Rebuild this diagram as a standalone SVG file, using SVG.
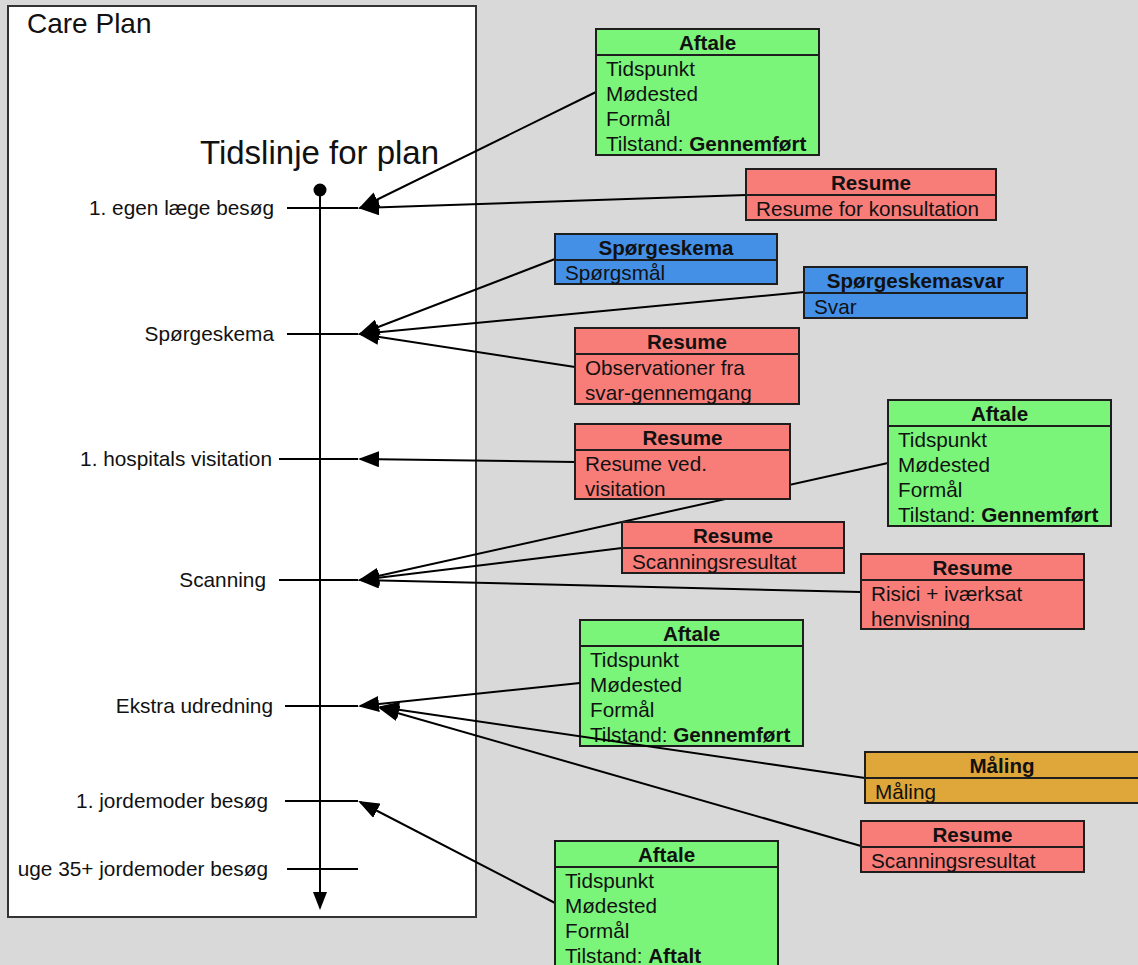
<svg xmlns="http://www.w3.org/2000/svg" width="1138" height="965" viewBox="0 0 1138 965">
<style>
text{font-family:"Liberation Sans",Arial,sans-serif;fill:#111}
.lbl{font-size:20.8px;text-anchor:end}
.hd{font-size:20.6px;font-weight:bold;text-anchor:middle}
.row{font-size:20.7px}
.b{font-weight:bold}
.box{stroke:#1e1e1e;stroke-width:2}
.sep{stroke:#1e1e1e;stroke-width:2}
.g{fill:#7af57a}.r{fill:#f87d79}.bl{fill:#4390e6}.o{fill:#dfa63a}
.tick{stroke:#000;stroke-width:2}
.con{stroke:#000;stroke-width:2;fill:none;marker-end:url(#ah)}
</style>
<defs>
<marker id="ah" viewBox="0 0 21 16" refX="19" refY="8" markerWidth="21" markerHeight="16" markerUnits="userSpaceOnUse" orient="auto"><path d="M0,0 L21,8 L0,16 z" fill="#000"/></marker>
<marker id="tl" viewBox="0 0 14 18" refX="7" refY="16" markerWidth="14" markerHeight="18" markerUnits="userSpaceOnUse" orient="0"><path d="M0,0 L14,0 L7,18 z" fill="#000"/></marker>
</defs>
<rect width="1138" height="965" fill="#d9d9d9"/>

<g id="care-plan">
<rect x="8" y="6" width="468" height="911" fill="#fff" stroke="#333" stroke-width="2"/>
<text x="27" y="33" style="font-size:28px">Care Plan</text>
<text x="200" y="164" style="font-size:33px">Tidslinje for plan</text>
<circle cx="320" cy="190" r="6.5" fill="#000"/>
<line x1="320" y1="190" x2="320" y2="908" stroke="#000" stroke-width="2" marker-end="url(#tl)"/>
<line class="tick" x1="287" y1="208" x2="358" y2="208"/>
<text class="lbl" x="274" y="215">1. egen læge besøg</text>
<line class="tick" x1="287" y1="334" x2="358" y2="334"/>
<text class="lbl" x="274" y="341">Spørgeskema</text>
<line class="tick" x1="279" y1="459" x2="358" y2="459"/>
<text class="lbl" x="272" y="466">1. hospitals visitation</text>
<line class="tick" x1="279" y1="580" x2="358" y2="580"/>
<text class="lbl" x="266" y="587">Scanning</text>
<line class="tick" x1="285" y1="706" x2="358" y2="706"/>
<text class="lbl" x="273" y="713">Ekstra udredning</text>
<line class="tick" x1="285" y1="801" x2="358" y2="801"/>
<text class="lbl" x="268" y="808">1. jordemoder besøg</text>
<line class="tick" x1="287" y1="869" x2="358" y2="869"/>
<text class="lbl" x="268" y="876">uge 35+ jordemoder besøg</text>
</g>

<g id="aftale-3">
<rect class="box g" x="580" y="620" width="223" height="126"/>
<line class="sep" x1="580" y1="646" x2="803" y2="646"/>
<text class="hd" x="691.5" y="641">Aftale</text>
<text class="row" x="590" y="667">Tidspunkt</text>
<text class="row" x="590" y="692">Mødested</text>
<text class="row" x="590" y="717">Formål</text>
<text class="row" x="590" y="742">Tilstand: <tspan class="b">Gennemført</tspan></text>
</g>

<g id="connectors">
<line class="con" x1="596" y1="92" x2="360" y2="208"/>
<line class="con" x1="746" y1="195" x2="360" y2="208"/>
<line class="con" x1="555" y1="259" x2="360" y2="334"/>
<line class="con" x1="804" y1="292" x2="360" y2="334"/>
<line class="con" x1="575" y1="367" x2="360" y2="334"/>
<line class="con" x1="575" y1="462" x2="360" y2="459"/>
<line class="con" x1="888" y1="463" x2="360" y2="580"/>
<line class="con" x1="622" y1="548" x2="360" y2="580"/>
<line class="con" x1="861" y1="592" x2="360" y2="580"/>
<line class="con" x1="580" y1="683" x2="360" y2="706"/>
<line class="con" x1="865" y1="778" x2="380" y2="707"/>
<line class="con" x1="861" y1="846" x2="380" y2="708"/>
<line class="con" x1="555" y1="903" x2="360" y2="802"/>
</g>

<g id="aftale-1">
<rect class="box g" x="596" y="29" width="223" height="126"/>
<line class="sep" x1="596" y1="55" x2="819" y2="55"/>
<text class="hd" x="707.5" y="50">Aftale</text>
<text class="row" x="606" y="76">Tidspunkt</text>
<text class="row" x="606" y="101">Mødested</text>
<text class="row" x="606" y="126">Formål</text>
<text class="row" x="606" y="151">Tilstand: <tspan class="b">Gennemført</tspan></text>
</g>

<g id="resume-1">
<rect class="box r" x="746" y="169" width="250" height="51"/>
<line class="sep" x1="746" y1="195" x2="996" y2="195"/>
<text class="hd" x="871" y="190">Resume</text>
<text class="row" x="756" y="216">Resume for konsultation</text>
</g>

<g id="spoergeskema">
<rect class="box bl" x="555" y="234" width="222" height="50"/>
<line class="sep" x1="555" y1="260" x2="777" y2="260"/>
<text class="hd" x="666" y="255">Spørgeskema</text>
<text class="row" x="565" y="280">Spørgsmål</text>
</g>

<g id="spoergeskemasvar">
<rect class="box bl" x="804" y="267" width="223" height="51"/>
<line class="sep" x1="804" y1="293" x2="1027" y2="293"/>
<text class="hd" x="915.5" y="288">Spørgeskemasvar</text>
<text class="row" x="814" y="314">Svar</text>
</g>

<g id="resume-2">
<rect class="box r" x="575" y="328" width="224" height="76"/>
<line class="sep" x1="575" y1="354" x2="799" y2="354"/>
<text class="hd" x="687" y="349">Resume</text>
<text class="row" x="585" y="375">Observationer fra</text>
<text class="row" x="585" y="400">svar-gennemgang</text>
</g>

<g id="resume-3">
<rect class="box r" x="575" y="424" width="215" height="75"/>
<line class="sep" x1="575" y1="450" x2="790" y2="450"/>
<text class="hd" x="682.5" y="445">Resume</text>
<text class="row" x="585" y="471">Resume ved.</text>
<text class="row" x="585" y="496">visitation</text>
</g>

<g id="aftale-2">
<rect class="box g" x="888" y="400" width="223" height="126"/>
<line class="sep" x1="888" y1="426" x2="1111" y2="426"/>
<text class="hd" x="999.5" y="421">Aftale</text>
<text class="row" x="898" y="447">Tidspunkt</text>
<text class="row" x="898" y="472">Mødested</text>
<text class="row" x="898" y="497">Formål</text>
<text class="row" x="898" y="522">Tilstand: <tspan class="b">Gennemført</tspan></text>
</g>

<g id="resume-4">
<rect class="box r" x="622" y="522" width="222" height="51"/>
<line class="sep" x1="622" y1="548" x2="844" y2="548"/>
<text class="hd" x="733" y="543">Resume</text>
<text class="row" x="632" y="569">Scanningsresultat</text>
</g>

<g id="resume-5">
<rect class="box r" x="861" y="554" width="223" height="75"/>
<line class="sep" x1="861" y1="580" x2="1084" y2="580"/>
<text class="hd" x="972.5" y="575">Resume</text>
<text class="row" x="871" y="601">Risici + iværksat</text>
<text class="row" x="871" y="626">henvisning</text>
</g>

<g id="maaling">
<rect class="box o" x="865" y="752" width="275" height="51"/>
<line class="sep" x1="865" y1="778" x2="1140" y2="778"/>
<text class="hd" x="1002" y="773">Måling</text>
<text class="row" x="875" y="799">Måling</text>
</g>

<g id="resume-6">
<rect class="box r" x="861" y="821" width="223" height="51"/>
<line class="sep" x1="861" y1="847" x2="1084" y2="847"/>
<text class="hd" x="972.5" y="842">Resume</text>
<text class="row" x="871" y="868">Scanningsresultat</text>
</g>

<g id="aftale-4">
<rect class="box g" x="555" y="841" width="223" height="128"/>
<line class="sep" x1="555" y1="867" x2="778" y2="867"/>
<text class="hd" x="666.5" y="862">Aftale</text>
<text class="row" x="565" y="888">Tidspunkt</text>
<text class="row" x="565" y="913">Mødested</text>
<text class="row" x="565" y="938">Formål</text>
<text class="row" x="565" y="963">Tilstand: <tspan class="b">Aftalt</tspan></text>
</g>
</svg>
